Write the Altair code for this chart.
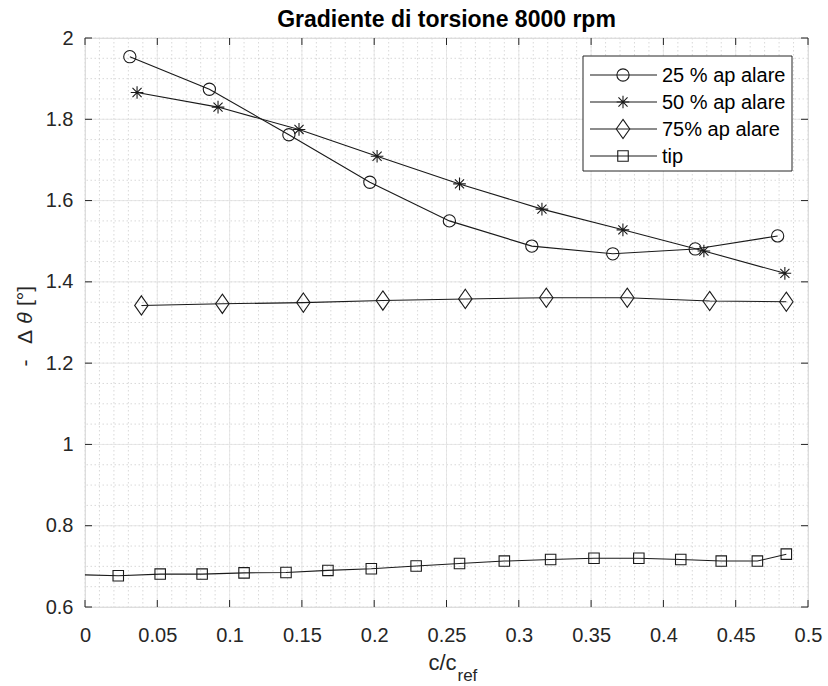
import altair as alt
import numpy as np
import pandas as pd

# Twist gradient -Δθ [deg] versus chord ratio c/c_ref at 8000 rpm
x_25 = [0.031, 0.086, 0.141, 0.197, 0.252, 0.309, 0.365, 0.422, 0.479]
y_25 = [1.954, 1.874, 1.762, 1.645, 1.550, 1.488, 1.469, 1.481, 1.513]

x_50 = [0.036, 0.092, 0.148, 0.202, 0.259, 0.316, 0.372, 0.428, 0.484]
y_50 = [1.866, 1.830, 1.775, 1.709, 1.641, 1.579, 1.528, 1.476, 1.421]

x_75 = [0.039, 0.095, 0.151, 0.206, 0.263, 0.319, 0.375, 0.432, 0.485]
y_75 = [1.342, 1.346, 1.349, 1.354, 1.358, 1.361, 1.361, 1.353, 1.351]

x_tip = [0.023, 0.052, 0.081, 0.110, 0.139, 0.168, 0.198, 0.229, 0.259,
         0.290, 0.322, 0.352, 0.383, 0.412, 0.440, 0.465, 0.485]
y_tip = [0.677, 0.681, 0.681, 0.684, 0.685, 0.690, 0.694, 0.701, 0.707,
         0.713, 0.717, 0.720, 0.720, 0.717, 0.713, 0.713, 0.730]
# the tip curve starts at the root, without a marker there
tip_root = (0.0, 0.679)

labels = ["25 % ap alare", "50 % ap alare", "75% ap alare", "tip"]
x_ticks = [0, 0.05, 0.1, 0.15, 0.2, 0.25, 0.3, 0.35, 0.4, 0.45, 0.5]
y_ticks = [0.6, 0.8, 1.0, 1.2, 1.4, 1.6, 1.8, 2.0]

title_text = "Gradiente di torsione 8000 rpm"

# ---- styling -------------------------------------------------------------
W, H = 723, 569
FONT = "Liberation Sans"
INK = "#262626"
TICK = 7

marker_shapes = {
    labels[0]: "circle",
    labels[1]: "M0,-1L0,1M-1,0L1,0M-0.72,-0.72L0.72,0.72M-0.72,0.72L0.72,-0.72",
    labels[2]: "M0,-1L0.7,0L0,1L-0.7,0Z",
    labels[3]: "square",
}
marker_sizes = {labels[0]: 150, labels[1]: 160, labels[2]: 370, labels[3]: 110}

series = [(labels[0], x_25, y_25), (labels[1], x_50, y_50),
          (labels[2], x_75, y_75), (labels[3], x_tip, y_tip)]

xs = alt.Scale(domain=[0, 0.5], nice=False, zero=False)
ys = alt.Scale(domain=[0.6, 2.0], nice=False, zero=False)

x_axis = alt.Axis(values=x_ticks, format="~g", title=None, grid=False,
                  domain=False, ticks=False, labelFont=FONT, labelFontSize=20,
                  labelColor=INK, labelPadding=18, labelFlush=False)
y_axis = alt.Axis(values=y_ticks, format="~g", title=None, grid=False,
                  domain=False, ticks=False, labelFont=FONT, labelFontSize=20,
                  labelColor=INK, labelPadding=12)


def X(field):
    return alt.X(field, type="quantitative", scale=xs, axis=x_axis)


def Y(field):
    return alt.Y(field, type="quantitative", scale=ys, axis=y_axis)


layers = []

# grid: dotted minor lines and light major lines
minor_x = pd.DataFrame({"v": np.round(np.arange(0.0, 0.5001, 0.01), 3)})
minor_y = pd.DataFrame({"v": np.round(np.arange(0.6, 2.0001, 0.05), 3)})
major_x = pd.DataFrame({"v": x_ticks})
major_y = pd.DataFrame({"v": y_ticks})

layers.append(alt.Chart(minor_x).mark_rule(color="#cfcfcf", strokeWidth=0.8,
                                           strokeDash=[1.5, 2.5]).encode(x=X("v")))
layers.append(alt.Chart(minor_y).mark_rule(color="#cfcfcf", strokeWidth=0.8,
                                           strokeDash=[1.5, 2.5]).encode(y=Y("v")))
layers.append(alt.Chart(major_x).mark_rule(color="#e2e2e2", strokeWidth=0.8).encode(x=X("v")))
layers.append(alt.Chart(major_y).mark_rule(color="#e2e2e2", strokeWidth=0.8).encode(y=Y("v")))

# data curves and markers
for name, xv, yv in series:
    pts = pd.DataFrame({"x": xv, "y": yv, "series": name})
    line_df = pts
    if name == labels[3]:
        line_df = pd.concat([pd.DataFrame({"x": [tip_root[0]], "y": [tip_root[1]],
                                           "series": [name]}), pts])
    layers.append(alt.Chart(line_df).mark_line(color="#1a1a1a", strokeWidth=1.1)
                  .encode(x=X("x"), y=Y("y"), order="x:Q"))
    layers.append(alt.Chart(pts).mark_point(filled=False, color="#1a1a1a", strokeWidth=1.1,
                                            opacity=1)
                  .encode(x=X("x"), y=Y("y"),
                          shape=alt.value(marker_shapes[name]),
                          size=alt.value(marker_sizes[name])))

# inward ticks on all four sides
layers.append(alt.Chart(major_x).mark_rule(color=INK).encode(
    x=X("v"), y=alt.value(H), y2=alt.value(H - TICK)))
layers.append(alt.Chart(major_x).mark_rule(color=INK).encode(
    x=X("v"), y=alt.value(0), y2=alt.value(TICK)))
layers.append(alt.Chart(major_y).mark_rule(color=INK).encode(
    y=Y("v"), x=alt.value(0), x2=alt.value(TICK)))
layers.append(alt.Chart(major_y).mark_rule(color=INK).encode(
    y=Y("v"), x=alt.value(W), x2=alt.value(W - TICK)))

# legend box
one = pd.DataFrame({"k": [0]})
leg_x0, leg_x1, leg_y0, leg_y1 = 498, 707, 18, 133
layers.append(alt.Chart(one).mark_rect(fill="white", stroke=INK, strokeWidth=1).encode(
    x=alt.value(leg_x0), x2=alt.value(leg_x1), y=alt.value(leg_y0), y2=alt.value(leg_y1)))
for i, name in enumerate(labels):
    row_y = 37 + i * 27
    row = pd.DataFrame({"label": [name]})
    layers.append(alt.Chart(row).mark_rule(color="#1a1a1a", strokeWidth=1.1).encode(
        x=alt.value(505), x2=alt.value(572), y=alt.value(row_y)))
    layers.append(alt.Chart(row).mark_point(filled=False, color="#1a1a1a", strokeWidth=1.1,
                                            opacity=1).encode(
        x=alt.value(538), y=alt.value(row_y),
        shape=alt.value(marker_shapes[name]), size=alt.value(marker_sizes[name])))
    layers.append(alt.Chart(row).mark_text(align="left", baseline="middle", font=FONT,
                                           fontSize=20, color="#000000").encode(
        x=alt.value(577), y=alt.value(row_y + 1), text="label:N"))

# title and axis titles
layers.append(alt.Chart(pd.DataFrame({"t": [title_text]})).mark_text(
    align="center", baseline="alphabetic", font=FONT, fontSize=23, fontWeight="bold",
    color="#000000").encode(x=alt.value(W / 2), y=alt.value(-11), text="t:N"))

layers.append(alt.Chart(pd.DataFrame({"t": ["c/c"]})).mark_text(
    align="right", baseline="alphabetic", font=FONT, fontSize=22, color=INK).encode(
    x=alt.value(W / 2 + 10), y=alt.value(H + 63), text="t:N"))
layers.append(alt.Chart(pd.DataFrame({"t": ["ref"]})).mark_text(
    align="left", baseline="alphabetic", font=FONT, fontSize=17, color=INK).encode(
    x=alt.value(W / 2 + 11), y=alt.value(H + 74), text="t:N"))

for txt, yy, style in [("-", 325, "normal"), ("Δ", 299, "normal"),
                       ("θ", 280, "italic"), ("[°]", 258, "normal")]:
    layers.append(alt.Chart(pd.DataFrame({"t": [txt]})).mark_text(
        align="center", baseline="middle", font=FONT, fontSize=21, fontStyle=style,
        angle=270, color=INK).encode(x=alt.value(-59), y=alt.value(yy), text="t:N"))

chart = alt.layer(*layers).properties(
    width=W, height=H,
    autosize=alt.AutoSizeParams(type="none"),
    padding={"left": 85, "top": 38, "right": 20, "bottom": 79},
).configure_view(stroke=INK, strokeWidth=1).configure(background="white")

chart.save("out.html", embed_options={"renderer": "svg", "actions": False})
